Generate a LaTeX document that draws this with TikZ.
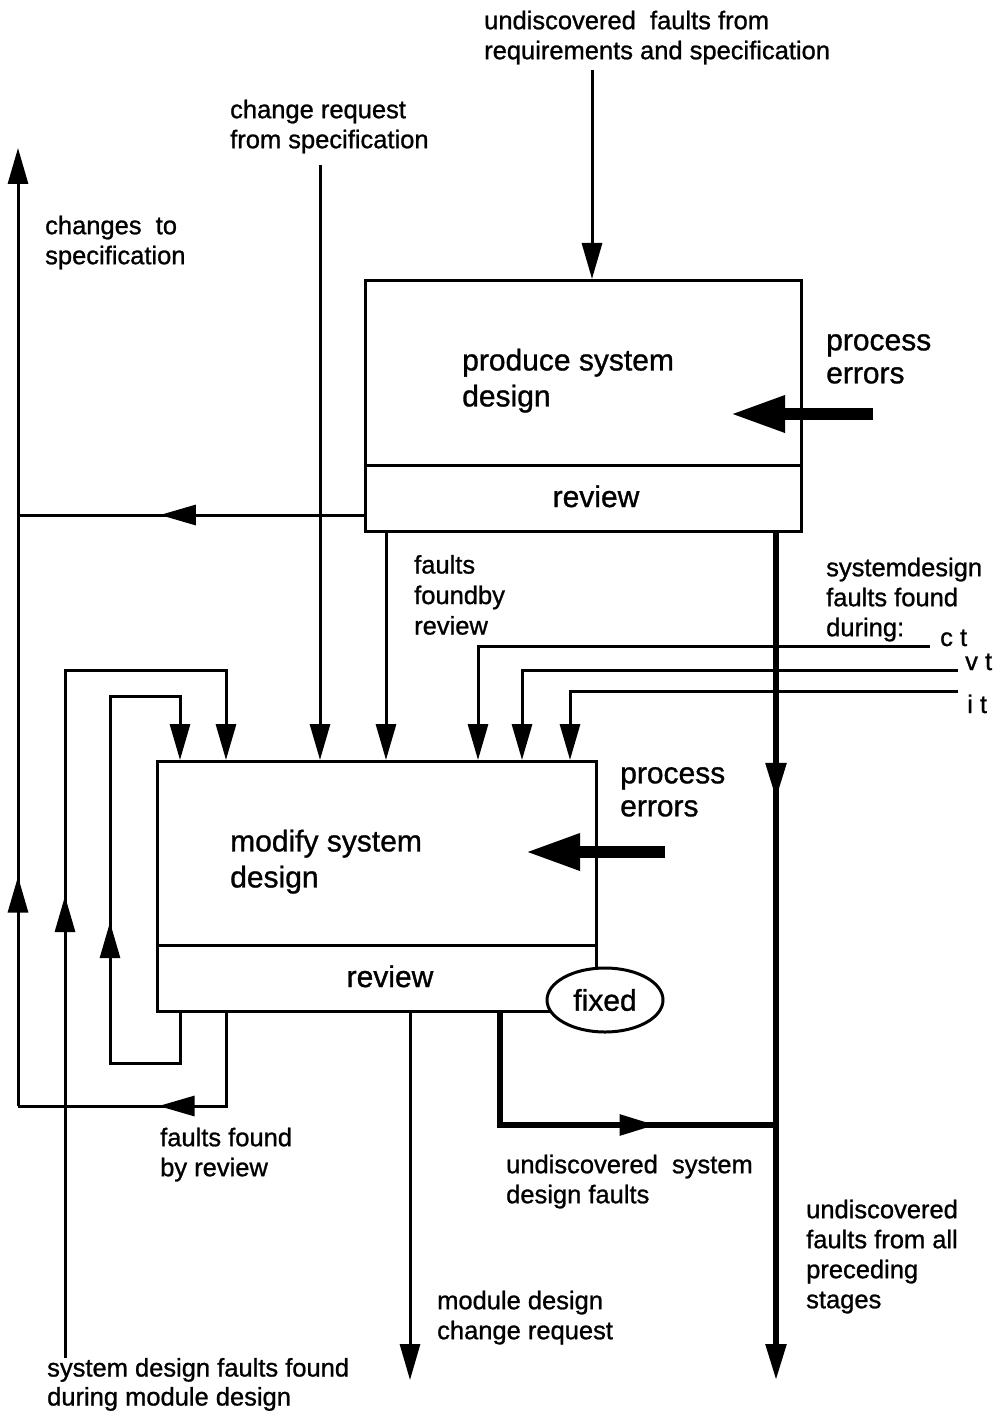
\documentclass[tikz,border=0pt]{standalone}
\usepackage{fontspec}
\setmainfont[FakeBold=1.0]{Liberation Sans}
\usetikzlibrary{arrows.meta,calc,decorations.markings,shapes.geometric}

\newcommand\lblfont{\fontsize{25.5pt}{30pt}\selectfont}
\newcommand\boxfont{\fontsize{30pt}{36pt}\selectfont}
\newcommand\pefont{\fontsize{30pt}{33pt}\selectfont}

\tikzset{
  wire/.style={line width=3pt},
  flow/.style={wire, -{Triangle[length=36pt,width=20pt]}},
  heavy/.style={line width=5.5pt},
  heavyflow/.style={heavy, -{Triangle[length=36pt,width=20pt]}},
  midarrow/.style={postaction={decorate},
    decoration={markings, mark=at position #1 with {\arrow{Triangle[length=36pt,width=20pt]}}}},
  errarrow/.style={line width=12pt, -{Triangle[length=55pt,width=34pt]}},
  box/.style={draw, line width=3pt, anchor=north west, inner sep=0pt},
  lbl/.style={font=\lblfont, align=left, anchor=north west, inner sep=0pt},
  boxlbl/.style={font=\boxfont, align=left, anchor=north west, inner sep=0pt},
  pelbl/.style={font=\pefont, align=left, anchor=north west, inner sep=0pt},
  reviewlbl/.style={font=\boxfont, anchor=base, inner sep=0pt},
  testlbl/.style={font=\lblfont, anchor=base west, inner sep=0pt},
}

\begin{document}
\begin{tikzpicture}[x=1pt,y=-1pt]
\useasboundingbox (0,0) rectangle (1001,1415);

% free ends of the connectors
\coordinate (reqsrc) at (592,70);
\coordinate (crsrc) at (320,165);
\coordinate (spectop) at (18,148);
\coordinate (specbot) at (18,1106);
\coordinate (sdsrc) at (65,1358);
\coordinate (ctsrc) at (930,646);
\coordinate (vtsrc) at (958,670);
\coordinate (itsrc) at (958,691);
\coordinate (allout) at (776,1380);
\coordinate (mdout) at (410,1380);
\coordinate (join) at (776,1125);
\coordinate (pe1) at (873,414);
\coordinate (pe2) at (665,852);

% process boxes
\node[box, minimum width=436pt, minimum height=185pt] (psd) at (364,279) {};
\node[box, minimum width=436pt, minimum height=66pt] (psdrev) at (364,464) {};
\node[box, minimum width=439pt, minimum height=184pt] (msd) at (156,760) {};
\node[box, minimum width=439pt, minimum height=66pt] (msdrev) at (156,944) {};

\node[boxlbl] (psdtxt) at (462,345) {\strut produce system\\design};
\node[boxlbl] (msdtxt) at (230,826) {\strut modify system\\design};
\node[reviewlbl] (psdrevtxt) at (596,507) {review};
\node[reviewlbl] (msdrevtxt) at (390,987) {review};

% process error inputs
\node[pelbl] (pe1txt) at (826,327) {\strut process\\errors};
\node[pelbl] (pe2txt) at (620,760) {\strut process\\errors};
\draw[errarrow] (pe1) -- ++(-143,0);
\draw[errarrow] (pe2) -- ++(-140,0);

% inputs from above
\draw[flow] (reqsrc) -- (reqsrc |- psd.north);
\draw[flow] (crsrc) -- (crsrc |- msd.north);
\draw[flow] ($(psdrev.south west)+(22,0)$) coordinate (frbtop) -- (frbtop |- msd.north);

% changes to specification
\draw[flow, midarrow=0.2395] (specbot) -- (spectop);
\draw[wire, midarrow=0.59] ($(psdrev.south west)+(0,-18)$) coordinate (chg) -- (chg -| specbot);

% review loops of the modify box
\draw[wire, midarrow=0.533] ($(msdrev.south west)+(70,0)$) |- (specbot);
\draw[flow, midarrow=0.42] ($(msdrev.south west)+(24,0)$) coordinate (l2a)
  -- ++(0,50) -- ++(-70,0) -- ++(0,-367) -- ++(70,0) -- (l2a |- msd.north);
\draw[flow, midarrow=0.492] (sdsrc) |- ($(msd.north west)+(70,-90)$) coordinate (l3c)
  -- (l3c |- msd.north);

% faults found during testing
\node[testlbl] (ct) at (940,646) {c t};
\node[testlbl] (vt) at (965,670) {v t};
\node[testlbl] (it) at (967,713) {i t};
\draw[flow] (ctsrc) -| ($(msd.north west)+(322,0)$);
\draw[flow] (vtsrc) -| ($(msd.north west)+(366,0)$);
\draw[flow] (itsrc) -| ($(msd.north west)+(414,0)$);

% outputs
\draw[heavyflow, midarrow=0.314] ($(psdrev.south west)+(412,0)$) coordinate (alltop) -- (alltop |- allout);
\draw[heavy, midarrow=0.69] ($(msdrev.south west)+(344,0)$) |- (join);
\draw[flow] (mdout |- msdrev.south) -- (mdout);

\node[ellipse, draw, line width=3pt, fill=white, minimum width=116pt, minimum height=64pt,
  inner sep=0pt, font=\boxfont] (fixed) at (605,1000) {fixed};

% labels
\node[lbl] (reqtxt) at (484,8) {\strut undiscovered\ \ faults from\\requirements and specification};
\node[lbl] (crtxt) at (230,97) {\strut change request\\from specification};
\node[lbl] (spectxt) at (45,213) {\strut changes\ \ to\\specification};
\node[lbl, font=\fontsize{25.5pt}{30.5pt}\selectfont] (frbtxt) at (414,552) {\strut faults\\foundby\\review};
\node[lbl] (sdtxt) at (826,555) {\strut systemdesign\\faults found\\during:};
\node[lbl] (rvtxt) at (160,1125) {\strut faults found\\by review};
\node[lbl] (usdtxt) at (506,1152) {\strut undiscovered\ \ system\\design faults};
\node[lbl] (alltxt) at (806,1197) {\strut undiscovered\\faults from all\\preceding\\stages};
\node[lbl] (mdtxt) at (437,1288) {\strut module design\\change request};
\node[lbl, font=\fontsize{25.5pt}{29pt}\selectfont] (sdmtxt) at (47,1356) {\strut system design faults found\\during module design};
\end{tikzpicture}
\end{document}
